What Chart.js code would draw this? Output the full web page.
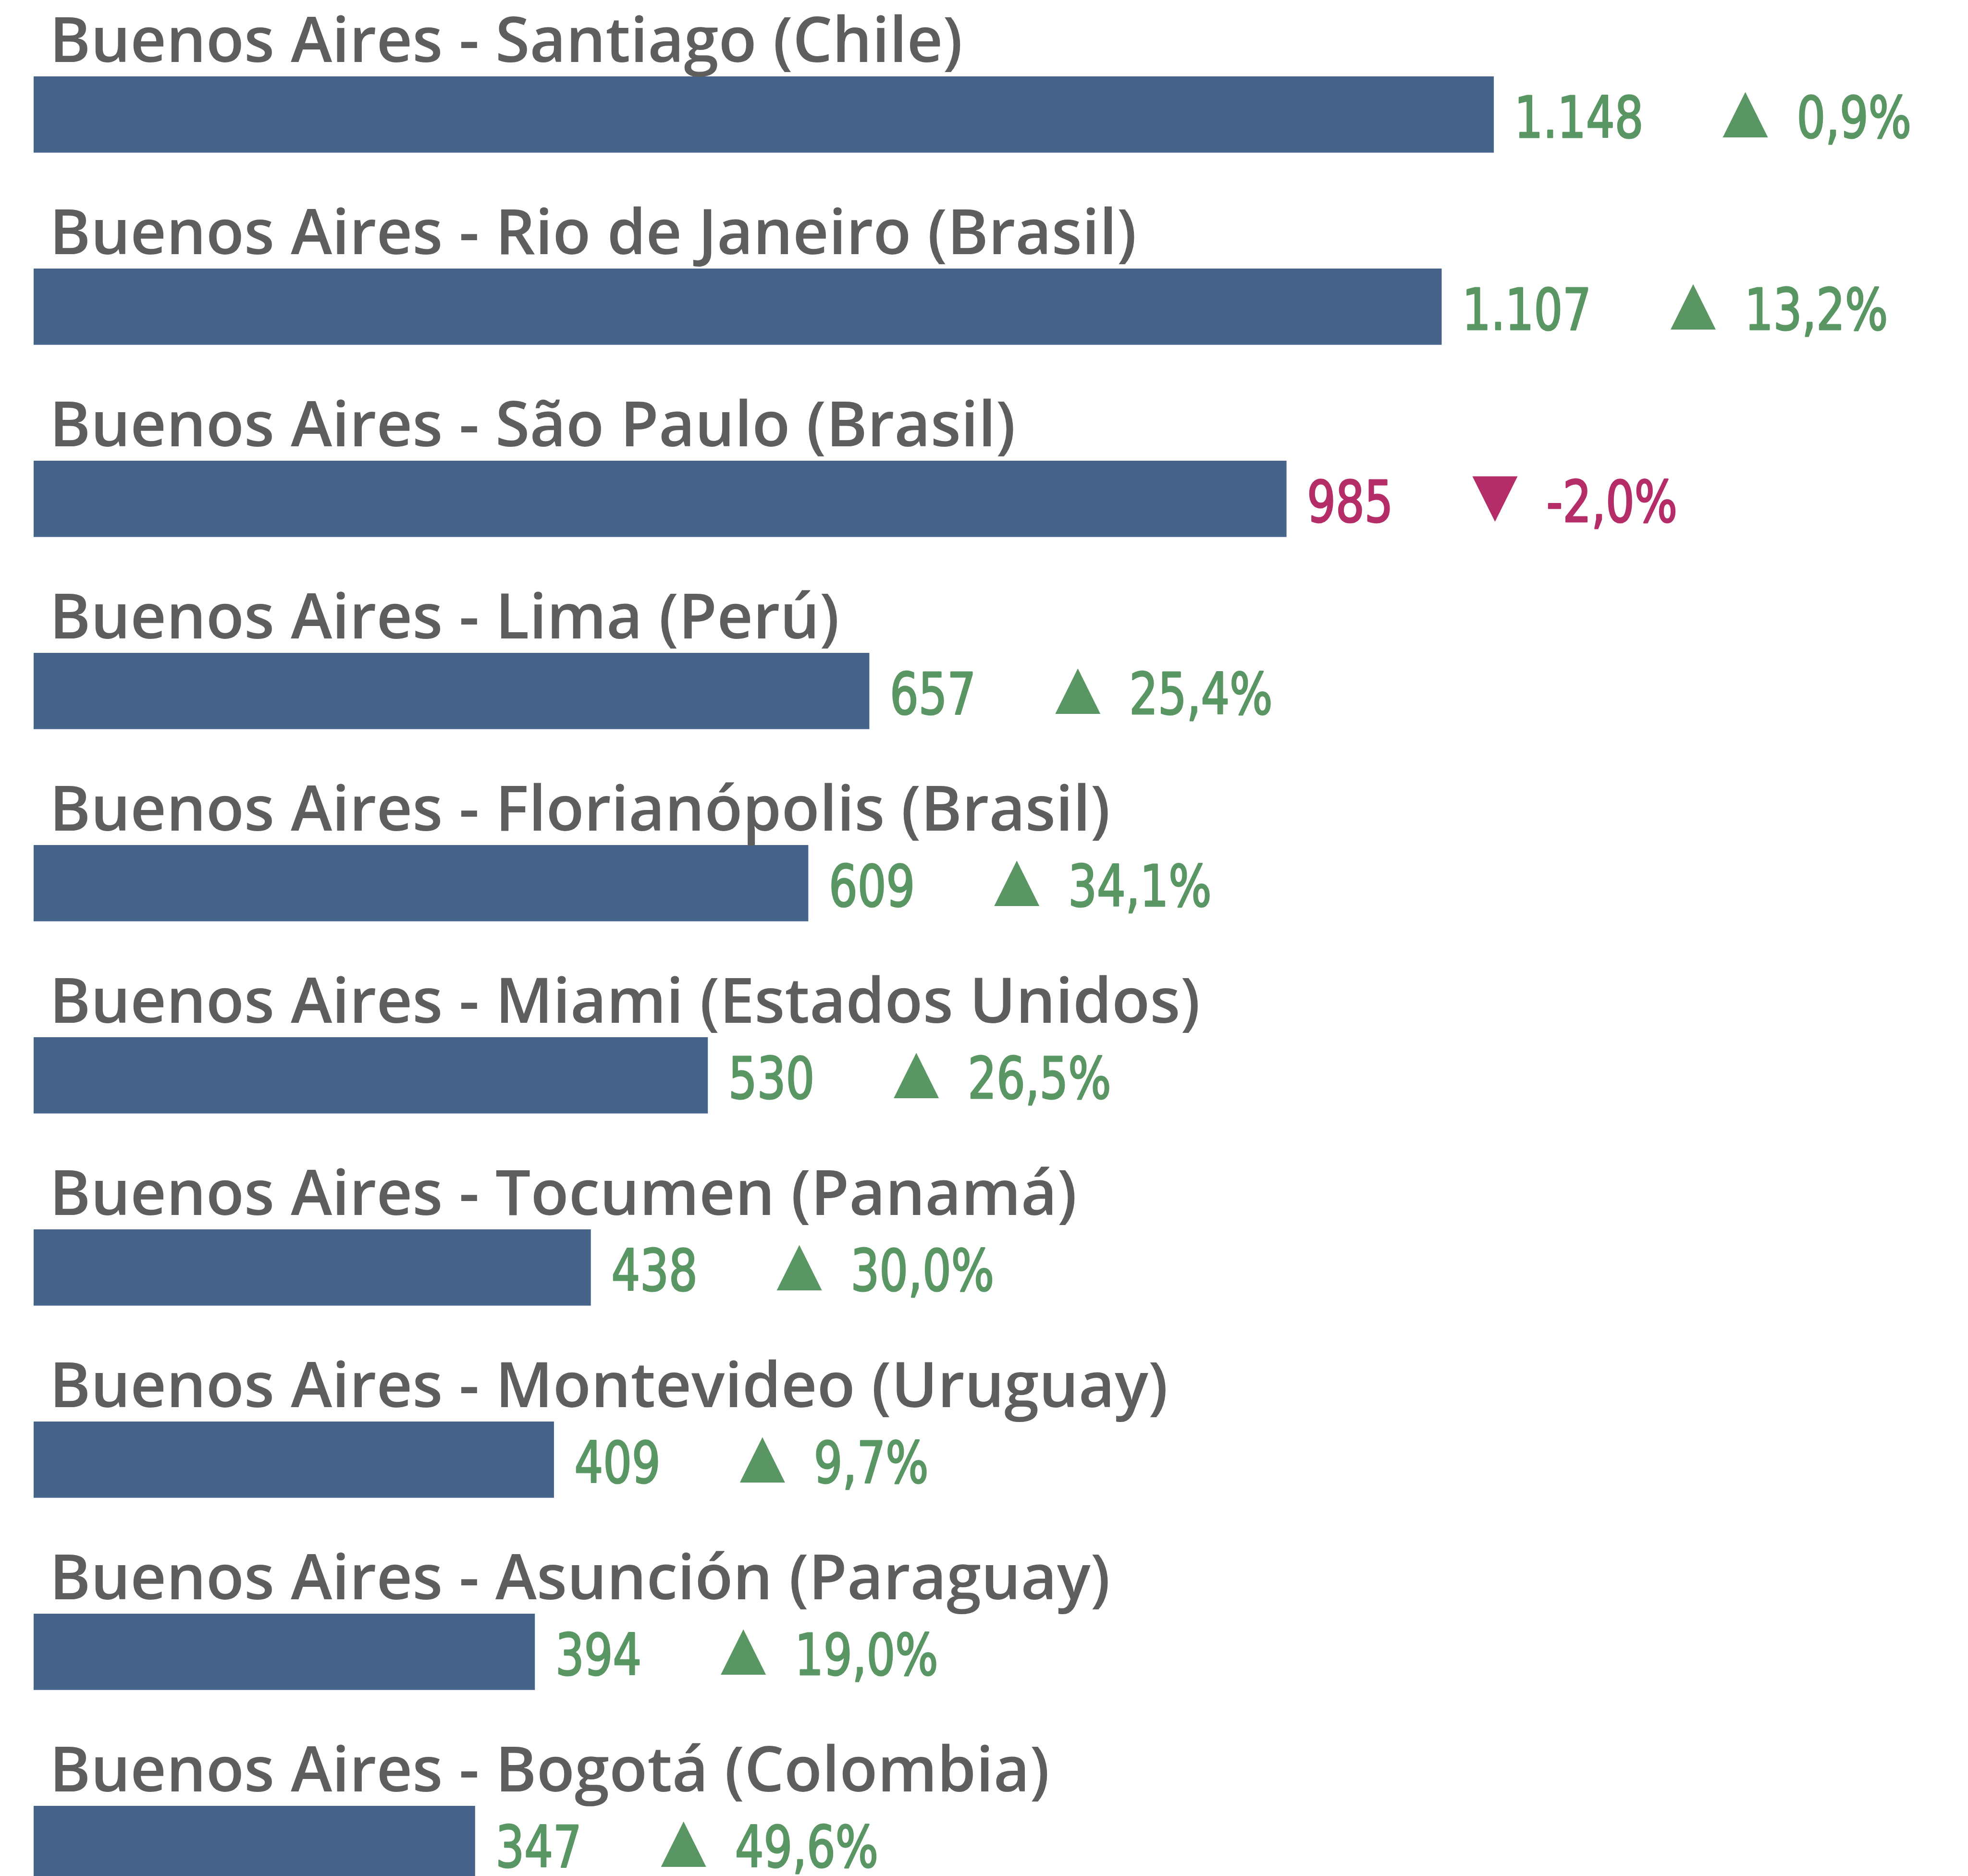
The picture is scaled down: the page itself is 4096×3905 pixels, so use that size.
<!DOCTYPE html>
<html>
<head>
<meta charset="utf-8">
<script src="https://cdn.jsdelivr.net/npm/chart.js@4.4.1/dist/chart.umd.min.js"></script>
<style>
  html, body { margin: 0; padding: 0; background: #ffffff; overflow: hidden; }
  #wrap { width: 4096px; height: 4100px; }
</style>
</head>
<body>
<div id="wrap"><canvas id="routesChart" width="4096" height="4100"></canvas></div>
<script>
// Top routes from Buenos Aires - passengers (thousands) and yearly change

const routes = [
  'Buenos Aires - Santiago (Chile)',
  'Buenos Aires - Rio de Janeiro (Brasil)',
  'Buenos Aires - São Paulo (Brasil)',
  'Buenos Aires - Lima (Perú)',
  'Buenos Aires - Florianópolis (Brasil)',
  'Buenos Aires - Miami (Estados Unidos)',
  'Buenos Aires - Tocumen (Panamá)',
  'Buenos Aires - Montevideo (Uruguay)',
  'Buenos Aires - Asunción (Paraguay)',
  'Buenos Aires - Bogotá (Colombia)'
];
const passengers = [1148, 1107, 985, 657, 609, 530, 438, 409, 394, 347];
const changePct = [0.9, 13.2, -2.0, 25.4, 34.1, 26.5, 30.0, 9.7, 19.0, 49.6];

const BAR_COLOR = '#46648a';
const LABEL_COLOR = '#605e5c';
const UP_COLOR = '#5a9664';
const DOWN_COLOR = '#b52d68';

const LABEL_FONT = '600 130px "Open Sans"';
const VALUE_FONT = '120px "DejaVu Sans Condensed", "DejaVu Sans", sans-serif';
const VALUE_SQUEEZE = 0.87; // narrow the digits, DIN-like

// 1.148 style thousands
function fmtValue(v) {
  return String(v).replace(/\B(?=(\d{3})+(?!\d))/g, '.');
}

// 13,2% style percentages
function fmtPct(v) {
  return v.toFixed(1).replace('.', ',') + '%';
}

// draws text squeezed horizontally (a bit heavier), returns drawn width
function fillNarrow(ctx, text, x, y) {
  ctx.save();
  ctx.translate(x, y);
  ctx.scale(VALUE_SQUEEZE, 1);
  ctx.strokeStyle = ctx.fillStyle;
  ctx.lineWidth = 3;
  ctx.lineJoin = 'round';
  ctx.fillText(text, 0, 0);
  ctx.strokeText(text, 0, 0);
  const w = ctx.measureText(text).width * VALUE_SQUEEZE;
  ctx.restore();
  return w;
}

// draws route name above each bar and value + change marker after it
const annotationsPlugin = {
  id: 'routeAnnotations',
  afterDatasetsDraw(chart) {
    const ctx = chart.ctx;
    const meta = chart.getDatasetMeta(0);
    ctx.save();
    meta.data.forEach((bar, i) => {
      const props = bar.getProps(['x', 'y', 'base', 'height'], true);
      const top = props.y - props.height / 2;

      // route name
      ctx.font = LABEL_FONT;
      ctx.fillStyle = LABEL_COLOR;
      ctx.textBaseline = 'alphabetic';
      ctx.textAlign = 'left';
      ctx.fillText(routes[i], props.base + 33, top - 30);

      // value
      const up = changePct[i] >= 0;
      const color = up ? UP_COLOR : DOWN_COLOR;
      const baseline = top + 126.5;
      ctx.font = VALUE_FONT;
      ctx.fillStyle = color;
      const vx = props.x + 43;
      const vw = fillNarrow(ctx, fmtValue(passengers[i]), vx, baseline);

      // triangle marker
      const tx = vx + vw + 165;
      const tw = 94;
      const tTop = top + 32;
      const tBot = top + 126.5;
      ctx.beginPath();
      if (up) {
        ctx.moveTo(tx, tBot);
        ctx.lineTo(tx + tw / 2, tTop);
        ctx.lineTo(tx + tw, tBot);
      } else {
        ctx.moveTo(tx, tTop);
        ctx.lineTo(tx + tw, tTop);
        ctx.lineTo(tx + tw / 2, tBot);
      }
      ctx.closePath();
      ctx.fill();

      // change
      fillNarrow(ctx, fmtPct(changePct[i]), tx + tw + 60, baseline);
    });
    ctx.restore();
  }
};

function buildChart() {
  const ctx = document.getElementById('routesChart').getContext('2d');
  return new Chart(ctx, {
    type: 'bar',
    data: {
      labels: routes,
      datasets: [{
        data: passengers,
        backgroundColor: BAR_COLOR,
        borderWidth: 0,
        barThickness: 158
      }]
    },
    options: {
      indexAxis: 'y',
      responsive: false,
      animation: false,
      layout: {
        padding: { top: 38.4, bottom: 61.6, left: 70, right: 55.5 }
      },
      plugins: {
        legend: { display: false },
        tooltip: { enabled: false }
      },
      scales: {
        x: { display: false, min: 0, max: 1500 },
        y: { display: false }
      }
    },
    plugins: [annotationsPlugin]
  });
}

const fontLoads = [
  document.fonts.load(LABEL_FONT, 'Buenos Aires'),
  document.fonts.load(VALUE_FONT, '1.148')
];
Promise.all(fontLoads).catch(() => {}).then(buildChart);
</script>
</body>
</html>
